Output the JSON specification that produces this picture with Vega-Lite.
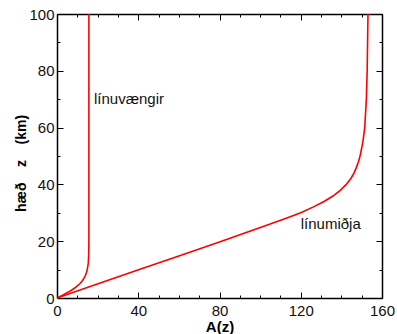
{
  "$schema": "https://vega.github.io/schema/vega-lite/v6.json",
  "width": 325,
  "height": 284,
  "autosize": "none",
  "padding": {"left": 57, "top": 14, "right": 15, "bottom": 36},
  "config": {
    "view": {"stroke": null},
    "font": "Liberation Sans",
    "axis": {
      "domainColor": "#000000",
      "domainWidth": 1.5,
      "tickColor": "#000000",
      "tickWidth": 1,
      "grid": false,
      "labelFont": "Liberation Sans",
      "labelFontSize": 15,
      "labelColor": "#111111",
      "titleFont": "Liberation Sans",
      "titleFontSize": 15,
      "titleFontWeight": "bold",
      "titleColor": "#000000"
    }
  },
  "datasets": {
    "curves": [
      {"s": "wing", "z": 0, "A": 0},
      {"s": "wing", "z": 1, "A": 2.77},
      {"s": "wing", "z": 2, "A": 5.39},
      {"s": "wing", "z": 3, "A": 7.69},
      {"s": "wing", "z": 4, "A": 9.62},
      {"s": "wing", "z": 5, "A": 11.2},
      {"s": "wing", "z": 6, "A": 12.4},
      {"s": "wing", "z": 7, "A": 13.3},
      {"s": "wing", "z": 8, "A": 14.0},
      {"s": "wing", "z": 9, "A": 14.5},
      {"s": "wing", "z": 10, "A": 14.9},
      {"s": "wing", "z": 12, "A": 15.35},
      {"s": "wing", "z": 14, "A": 15.55},
      {"s": "wing", "z": 17, "A": 15.65},
      {"s": "wing", "z": 20, "A": 15.7},
      {"s": "wing", "z": 40, "A": 15.7},
      {"s": "wing", "z": 70, "A": 15.7},
      {"s": "wing", "z": 100, "A": 15.7},
      {"s": "mid", "z": 0, "A": 0},
      {"s": "mid", "z": 5, "A": 20.2},
      {"s": "mid", "z": 10, "A": 40.5},
      {"s": "mid", "z": 15, "A": 60.7},
      {"s": "mid", "z": 20, "A": 81.0},
      {"s": "mid", "z": 25, "A": 100.8},
      {"s": "mid", "z": 28, "A": 112.5},
      {"s": "mid", "z": 30, "A": 120.0},
      {"s": "mid", "z": 32, "A": 126.0},
      {"s": "mid", "z": 34, "A": 131.5},
      {"s": "mid", "z": 36, "A": 136.0},
      {"s": "mid", "z": 38, "A": 139.6},
      {"s": "mid", "z": 40, "A": 142.4},
      {"s": "mid", "z": 42, "A": 144.6},
      {"s": "mid", "z": 44, "A": 146.2},
      {"s": "mid", "z": 46, "A": 147.4},
      {"s": "mid", "z": 48, "A": 148.4},
      {"s": "mid", "z": 50, "A": 149.2},
      {"s": "mid", "z": 55, "A": 150.6},
      {"s": "mid", "z": 60, "A": 151.5},
      {"s": "mid", "z": 70, "A": 152.3},
      {"s": "mid", "z": 80, "A": 152.7},
      {"s": "mid", "z": 90, "A": 152.9},
      {"s": "mid", "z": 100, "A": 153.1}
    ],
    "labels": [
      {"label": "línuvængir", "A": 18.2, "z": 70},
      {"label": "línumiðja", "A": 120, "z": 26}
    ]
  },
  "layer": [
    {
      "data": {"name": "curves"},
      "mark": {"type": "line", "color": "#ff0000", "strokeWidth": 1.6},
      "encoding": {
        "x": {
          "field": "A", "type": "quantitative",
          "scale": {"domain": [0, 160], "nice": false},
          "axis": {
            "orient": "bottom",
            "title": "A(z)",
            "titlePadding": 1,
            "values": [0,10,20,30,40,50,60,70,80,90,100,110,120,130,140,150,160],
            "labelExpr": "datum.value % 40 === 0 ? datum.label : ''",
            "tickSize": {"condition": {"test": "datum.value % 40 === 0", "value": -6}, "value": -3},
            "labelPadding": 11,
            "labelFlush": false
          }
        },
        "y": {
          "field": "z", "type": "quantitative",
          "scale": {"domain": [0, 100], "nice": false},
          "axis": {
            "orient": "left",
            "title": "hæð\u00a0\u00a0\u00a0\u00a0z\u00a0\u00a0\u00a0\u00a0(km)",
            "titleFontSize": 14,
            "titleX": -29,
            "titleY": 149,
            "titleBaseline": "bottom",
            "values": [0,10,20,30,40,50,60,70,80,90,100],
            "labelExpr": "datum.value % 20 === 0 ? datum.label : ''",
            "tickSize": {"condition": {"test": "datum.value % 20 === 0", "value": -6}, "value": -3},
            "labelPadding": 9,
            "labelFlush": false
          }
        },
        "detail": {"field": "s"},
        "order": {"field": "z", "type": "quantitative"}
      }
    },
    {
      "data": {"name": "labels"},
      "mark": {"type": "text", "align": "left", "baseline": "middle", "fontSize": 15, "font": "Liberation Sans", "color": "#111111"},
      "encoding": {
        "x": {
          "field": "A", "type": "quantitative",
          "scale": {"domain": [0, 160], "nice": false},
          "axis": {
            "orient": "top",
            "title": null,
            "labels": false,
            "values": [0,10,20,30,40,50,60,70,80,90,100,110,120,130,140,150,160],
            "tickSize": {"condition": {"test": "datum.value % 40 === 0", "value": -6}, "value": -3}
          }
        },
        "y": {
          "field": "z", "type": "quantitative",
          "scale": {"domain": [0, 100], "nice": false},
          "axis": {
            "orient": "right",
            "title": null,
            "labels": false,
            "values": [0,10,20,30,40,50,60,70,80,90,100],
            "tickSize": {"condition": {"test": "datum.value % 20 === 0", "value": -6}, "value": -3}
          }
        },
        "text": {"field": "label"}
      }
    }
  ],
  "resolve": {"axis": {"x": "independent", "y": "independent"}}
}
